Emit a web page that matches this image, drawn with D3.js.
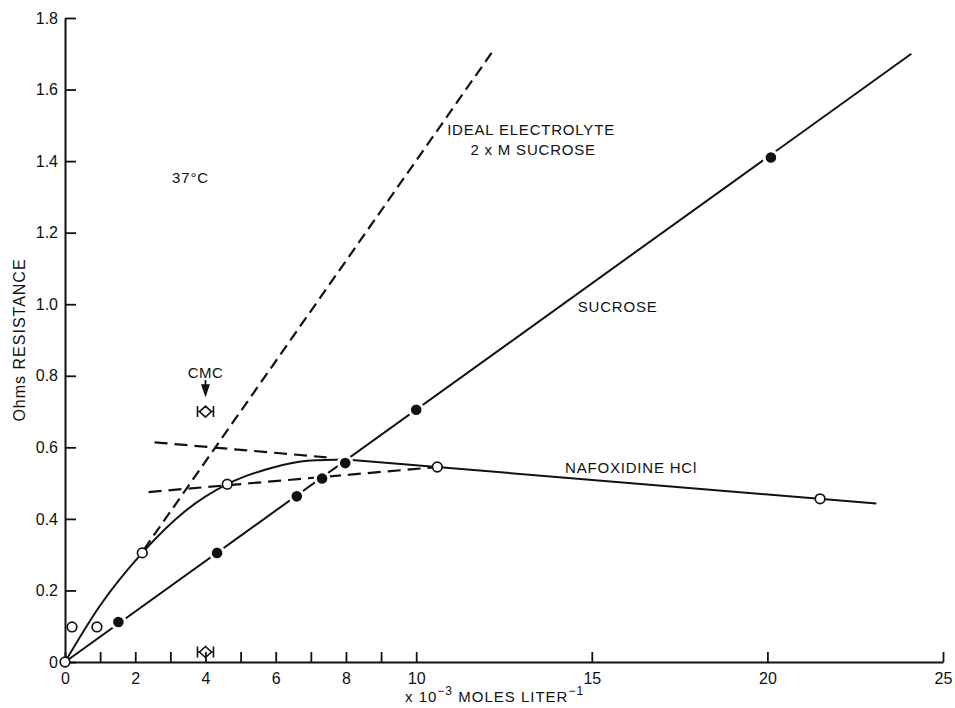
<!DOCTYPE html>
<html>
<head>
<meta charset="utf-8">
<script src="https://cdn.jsdelivr.net/npm/d3@7"></script>
<style>
  body { margin: 0; background: #fff; }
  text { font-family: "Liberation Sans", Arial, sans-serif; fill: #111; }
</style>
</head>
<body>
<div id="chart"></div>
<script>
// tick values / labels
const xTicks = [0, 1, 2, 3, 4, 5, 6, 7, 8, 9, 10, 15, 20, 25];
const xLabeled = [0, 2, 4, 6, 8, 10, 15, 20, 25];
const yTicks = [0, 0.2, 0.4, 0.6, 0.8, 1.0, 1.2, 1.4, 1.6, 1.8];
const yTickLabels = ["0", "0.2", "0.4", "0.6", "0.8", "1.0", "1.2", "1.4", "1.6", "1.8"];

// sucrose (filled circles) + fitted straight line
const sucroseX = [1.52, 4.33, 6.6, 7.32, 7.98, 10.0, 20.1];
const sucroseY = [0.112, 0.305, 0.463, 0.513, 0.556, 0.705, 1.41];
const sucroseLine = [[0, 0], [24.1, 1.70]];

// nafoxidine HCl (open circles) + drawn curve
const nafoxX = [0, 0.2, 0.91, 2.2, 4.62, 10.6, 21.5];
const nafoxY = [0, 0.098, 0.098, 0.305, 0.497, 0.545, 0.456];
const nafoxCurve = [[0, 0], [1.0, 0.158], [2.2, 0.305], [3.4, 0.42], [4.62, 0.497], [5.9, 0.543], [7.0, 0.563], [8.0, 0.566]];
const nafoxStraight = [[8.0, 0.566], [23.1, 0.443]];

// dashed construction lines
const idealLine = [[2.25, 0.315], [12.2, 1.71]];
const upperDash = [[2.55, 0.614], [7.45, 0.572]];
const lowerDash = [[2.38, 0.475], [10.5, 0.544]];

// CMC markers
const cmcX = [4.0, 4.0];
const cmcY = [0.70, 0.028];

const width = 955, height = 708;
const svg = d3.select("#chart").append("svg")
  .attr("width", width)
  .attr("height", height);

const x = d3.scaleLinear().domain([0, 25]).range([65, 943]);
const y = d3.scaleLinear().domain([0, 1.8]).range([662, 18]);

// axes
const xAxis = d3.axisBottom(x)
  .tickValues(xTicks)
  .tickSizeInner(-10)
  .tickSizeOuter(0)
  .tickPadding(10)
  .tickFormat(d => xLabeled.includes(d) ? String(d) : "");

const gx = svg.append("g")
  .attr("transform", `translate(0, ${y(0)})`)
  .call(xAxis);

const yAxis = d3.axisLeft(y)
  .tickValues(yTicks)
  .tickSizeInner(-11)
  .tickSizeOuter(0)
  .tickPadding(7)
  .tickFormat((d, i) => yTickLabels[i]);

const gy = svg.append("g")
  .attr("transform", `translate(${x(0)}, 0)`)
  .call(yAxis);

[gx, gy].forEach(g => {
  g.select(".domain").attr("stroke", "#111").attr("stroke-width", 2);
  g.selectAll(".tick line").attr("stroke", "#111").attr("stroke-width", 1.8);
  g.selectAll(".tick text").style("font-size", "16px").attr("fill", "#111");
});
gx.selectAll(".tick text").attr("dy", "0.75em");

// axis titles
const xTitle = svg.append("text")
  .attr("x", 405)
  .attr("y", 702)
  .style("font-size", "15px")
  .style("letter-spacing", "1px");
xTitle.append("tspan").text("x 10");
xTitle.append("tspan").attr("dy", -7).style("font-size", "12px").text("\u22123");
xTitle.append("tspan").attr("dy", 7).text(" MOLES LITER");
xTitle.append("tspan").attr("dy", -7).style("font-size", "12px").text("\u22121");

svg.append("text")
  .attr("transform", `translate(25, 340) rotate(-90)`)
  .attr("text-anchor", "middle")
  .style("font-size", "16px")
  .style("letter-spacing", "1px")
  .text("Ohms RESISTANCE");

const line = d3.line().x(d => x(d[0])).y(d => y(d[1]));

// dashed construction lines
svg.append("path")
  .datum(idealLine)
  .attr("d", line)
  .attr("fill", "none")
  .attr("stroke", "#111")
  .attr("stroke-width", 2.2)
  .attr("stroke-dasharray", "11,6");

[upperDash, lowerDash].forEach(seg => {
  svg.append("path")
    .datum(seg)
    .attr("d", line)
    .attr("fill", "none")
    .attr("stroke", "#111")
    .attr("stroke-width", 2.2)
    .attr("stroke-dasharray", "13,7");
});

// sucrose line
svg.append("path")
  .datum(sucroseLine)
  .attr("d", line)
  .attr("fill", "none")
  .attr("stroke", "#111")
  .attr("stroke-width", 2);

// nafoxidine curve
svg.append("path")
  .datum(nafoxCurve)
  .attr("d", d3.line().x(d => x(d[0])).y(d => y(d[1])).curve(d3.curveMonotoneX))
  .attr("fill", "none")
  .attr("stroke", "#111")
  .attr("stroke-width", 2);

svg.append("path")
  .datum(nafoxStraight)
  .attr("d", line)
  .attr("fill", "none")
  .attr("stroke", "#111")
  .attr("stroke-width", 2);

// sucrose points (white halo gives the gap in the line)
svg.selectAll(".suc")
  .data(sucroseX.map((d, i) => [d, sucroseY[i]]))
  .enter()
  .append("circle")
  .attr("class", "suc")
  .attr("cx", d => x(d[0]))
  .attr("cy", d => y(d[1]))
  .attr("r", 6.8)
  .attr("fill", "#111")
  .attr("stroke", "#fff")
  .attr("stroke-width", 3);

// nafoxidine points
svg.selectAll(".naf")
  .data(nafoxX.map((d, i) => [d, nafoxY[i]]))
  .enter()
  .append("circle")
  .attr("class", "naf")
  .attr("cx", d => x(d[0]))
  .attr("cy", d => y(d[1]))
  .attr("r", 4.8)
  .attr("fill", "#fff")
  .attr("stroke", "#111")
  .attr("stroke-width", 1.7);

// CMC markers: |<>|
cmcX.forEach((cx, i) => {
  const px = x(cx), py = y(cmcY[i]);
  const g = svg.append("g").attr("transform", `translate(${px}, ${py})`);
  g.append("path")
    .attr("d", "M-8,-5.5V5.5M8,-5.5V5.5M-8,0H-6M6,0H8M-6,0L0,-5.5L6,0L0,5.5Z")
    .attr("fill", "none")
    .attr("stroke", "#111")
    .attr("stroke-width", 1.6);
});

// CMC label and arrow
svg.append("text")
  .attr("x", x(4.0))
  .attr("y", y(0.795))
  .attr("text-anchor", "middle")
  .style("font-size", "15px")
  .style("letter-spacing", "0.5px")
  .text("CMC");

svg.append("line")
  .attr("x1", x(4.0)).attr("x2", x(4.0))
  .attr("y1", y(0.788)).attr("y2", y(0.75))
  .attr("stroke", "#111")
  .attr("stroke-width", 1.8);
svg.append("path")
  .attr("transform", `translate(${x(4.0)}, ${y(0.74)})`)
  .attr("d", "M0,0L-4.5,-13L4.5,-13Z")
  .attr("fill", "#111");

// annotations
const note = (tx, ty, str, anchor) => svg.append("text")
  .attr("x", x(tx))
  .attr("y", y(ty))
  .attr("text-anchor", anchor || "start")
  .style("font-size", "15px")
  .style("letter-spacing", "0.8px")
  .text(str);

note(13.27, 1.473, "IDEAL ELECTROLYTE", "middle");
note(13.33, 1.417, "2 x M SUCROSE", "middle");
note(3.05, 1.339, "37\u00b0C");
note(14.6, 0.978, "SUCROSE");
note(14.24, 0.528, "NAFOXIDINE HCl");
</script>
</body>
</html>
